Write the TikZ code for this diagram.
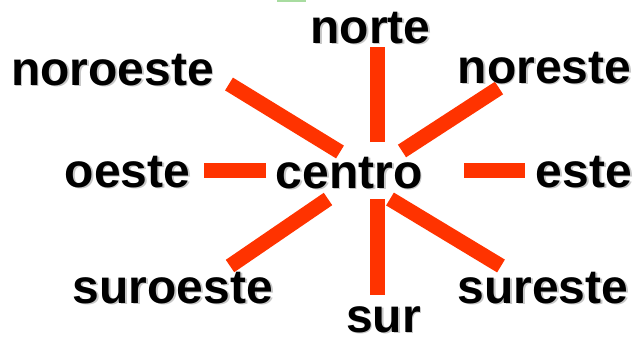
\documentclass[tikz,border=0pt]{standalone}
\usepackage{fontspec}
\setmainfont{Liberation Sans}
\usepackage{tikz}
\usetikzlibrary{positioning,calc}

\definecolor{raycolor}{HTML}{FF3300}
\definecolor{markgreen}{HTML}{A8DCA0}

\tikzset{
  ray/.style={line width=15pt, draw=raycolor, line cap=butt},
  compass text/.style={anchor=base, inner sep=0pt, text depth=0pt,
    font=\fontsize{48}{52}\selectfont\bfseries},
  compass shadow/.style={compass text, text=black!22}
}

\begin{document}
\begin{tikzpicture}[x=1pt, y=-1pt]

\useasboundingbox (0,0) rectangle (638,341);

% small green mark at the top
\fill [markgreen] (277,0) rectangle (306,1.5);

% rays round the centre
\foreach \d/\ax/\ay/\bx/\by in {n/377.5/47/377.5/142, s/377.5/295/377.5/199,
    w/204/170.5/266/170.5, e/525/170.5/464/170.5,
    nw/229/84/340/152, ne/499/88/402/151,
    sw/230/266/328/199, se/501/266/390/199}
{
  \coordinate (\d-out) at (\ax,\ay);
  \coordinate (\d-in) at (\bx,\by);
  \draw [ray] (\d-in) -- (\d-out);
}

% labels, with a soft shadow behind
\foreach \t/\x/\y in {norte/370.5/43, noreste/544.5/83, noroeste/112.5/85,
    oeste/127.5/187, centro/349/188, este/584/187,
    suroeste/173/303, sur/383.5/332, sureste/543/303}
{
  \node [compass shadow] (\t-shadow) at (\x+1.8,\y+1.8) {\t};
  \node [compass text] (\t) at (\x,\y) {\t};
}

\end{tikzpicture}
\end{document}
